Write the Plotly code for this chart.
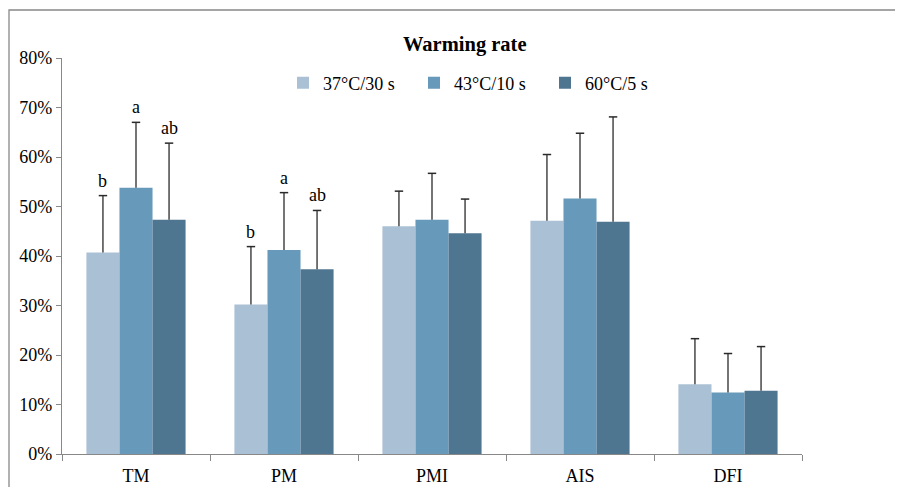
import plotly.graph_objects as go

categories = ["TM", "PM", "PMI", "AIS", "DFI"]
series_names = ["37°C/30 s", "43°C/10 s", "60°C/5 s"]
values_37 = [40.7, 30.2, 46.0, 47.1, 14.1]
values_43 = [53.8, 41.2, 47.3, 51.6, 12.4]
values_60 = [47.3, 37.3, 44.6, 46.9, 12.8]
err_37 = [11.5, 11.7, 7.1, 13.4, 9.2]
err_43 = [13.2, 11.6, 9.4, 13.2, 7.9]
err_60 = [15.5, 11.9, 6.9, 21.2, 8.9]
letters_37 = ["b", "b", "", "", ""]
letters_43 = ["a", "a", "", "", ""]
letters_60 = ["ab", "ab", "", "", ""]
colors = ["#aac0d4", "#6699ba", "#4f7690"]
y_ticks = [0, 10, 20, 30, 40, 50, 60, 70, 80]

FONT = "Times New Roman, Liberation Serif, DejaVu Serif, serif"
BARGAP = 0.33

vals = [values_37, values_43, values_60]
errs = [err_37, err_43, err_60]
lets = [letters_37, letters_43, letters_60]

fig = go.Figure()
for name, v, e, c in zip(series_names, vals, errs, colors):
    fig.add_trace(go.Bar(
        x=categories, y=v, name=name, offsetgroup=name,
        marker=dict(color=c, line=dict(width=0)),
        error_y=dict(type="data", symmetric=False, array=e,
                     arrayminus=[0] * len(e), color="#2a2a2a",
                     thickness=1.3, width=0),
    ))
for name, v, e in zip(series_names, vals, errs):
    fig.add_trace(go.Scatter(
        x=categories, y=[a + b for a, b in zip(v, e)], mode="markers",
        offsetgroup=name, showlegend=False, hoverinfo="skip",
        marker=dict(symbol="line-ew", size=6,
                    line=dict(color="#2a2a2a", width=1.5)),
    ))

bw = (1 - BARGAP) / 3
annotations = []
for s, (v, e, L) in enumerate(zip(vals, errs, lets)):
    for i, lab in enumerate(L):
        if lab:
            annotations.append(dict(
                x=i + (s - 1) * bw, y=v[i] + e[i], xref="x", yref="y",
                text=lab, showarrow=False, yanchor="bottom", yshift=3,
                font=dict(family=FONT, size=18, color="#000"),
            ))

annotations.append(dict(
    x=(465 - 62) / 740, y=(454 - 44) / 396, xref="paper", yref="paper",
    text="<b>Warming rate</b>", showarrow=False, yanchor="middle",
    font=dict(family=FONT, size=20.5, color="#000"),
))

# page has an 8px body margin, so the figure is 8px smaller and shifted
fig.update_layout(
    width=895, height=479,
    margin=dict(l=54, r=101, t=50, b=33, autoexpand=False),
    paper_bgcolor="white", plot_bgcolor="white",
    barmode="group", bargap=BARGAP, bargroupgap=0,
    scattermode="group", scattergap=BARGAP,
    font=dict(family=FONT, size=18, color="#000"),
    showlegend=True,
    legend=dict(orientation="h", x=(283 - 62) / 740, y=(454 - 83) / 396,
                xanchor="left", yanchor="middle", bgcolor="rgba(0,0,0,0)",
                font=dict(family=FONT, size=18, color="#000"),
                tracegroupgap=0, traceorder="normal",
                entrywidth=86, entrywidthmode="pixels"),
    xaxis=dict(type="category", showline=True, linecolor="#888888", linewidth=1.3,
               ticks="outside", tickson="boundaries", ticklen=6, tickcolor="#888888",
               showgrid=False, tickfont=dict(family=FONT, size=18),
               ticklabelstandoff=5),
    yaxis=dict(range=[0, 80], tickvals=y_ticks, ticktext=[f"{t}%" for t in y_ticks],
               showline=True, linecolor="#888888", linewidth=1.3, ticks="outside",
               ticklen=5, tickcolor="#888888", showgrid=False, zeroline=False,
               tickfont=dict(family=FONT, size=18)),
    annotations=annotations,
    shapes=[dict(type="rect", xref="paper", yref="paper", x0=(9 - 62) / 740, x1=1.2,
                 y0=-0.2, y1=(454 - 10) / 396, line=dict(color="#888888", width=1.3))],
)
fig.write_html("out.html")
